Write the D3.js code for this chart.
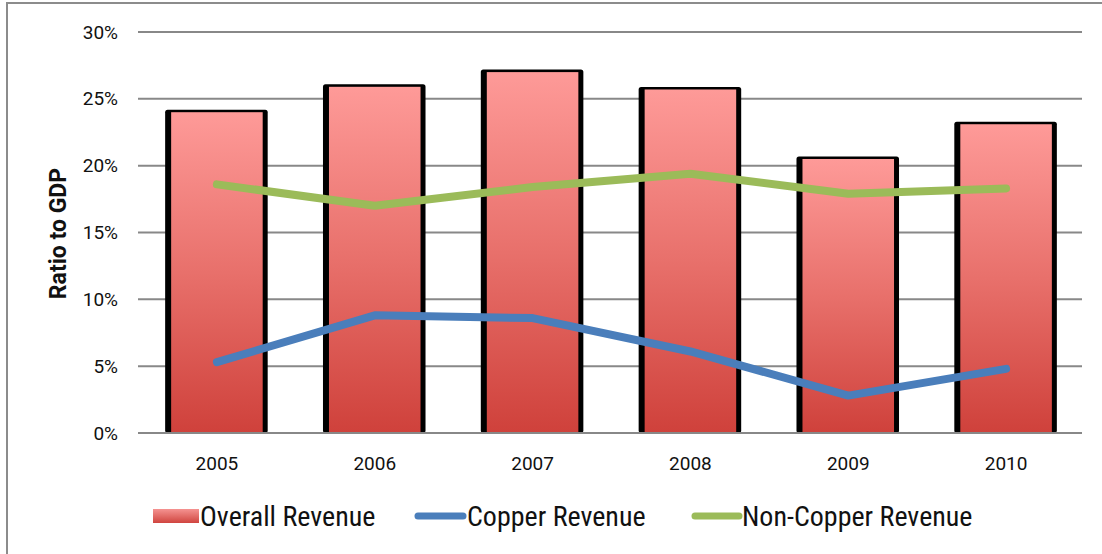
<!DOCTYPE html>
<meta charset="utf-8">
<body style="margin:0;background:#fff">
<script src="https://d3js.org/d3.v7.min.js"></script>
<script>

var years = ["2005", "2006", "2007", "2008", "2009", "2010"];
var overall = [24.0, 25.9, 27.0, 25.7, 20.5, 23.1];
var copper = [5.3, 8.8, 8.6, 6.1, 2.8, 4.8];
var nonCopper = [18.6, 17.0, 18.4, 19.4, 17.9, 18.3];
var yTicks = [0, 5, 10, 15, 20, 25, 30];

var W = 1102, H = 554;
var margin = { top: 32, right: 17, bottom: 121, left: 138 };
var width = W - margin.left - margin.right,
    height = H - margin.top - margin.bottom;

var svg = d3.select("body").append("svg")
    .attr("width", W)
    .attr("height", H);

// outer frame (runs off right/bottom)
svg.append("rect")
    .attr("x", 7).attr("y", 3)
    .attr("width", W + 10).attr("height", H + 10)
    .attr("fill", "none")
    .attr("stroke", "#8c8c8c")
    .attr("stroke-width", 2);

var defs = svg.append("defs");
var grad = defs.append("linearGradient")
    .attr("id", "barGrad")
    .attr("x1", 0).attr("y1", 0).attr("x2", 0).attr("y2", 1);
grad.append("stop").attr("offset", "0%").attr("stop-color", "#fe9a98");
grad.append("stop").attr("offset", "50%").attr("stop-color", "#e8706b");
grad.append("stop").attr("offset", "100%").attr("stop-color", "#cf413b");

var g = svg.append("g")
    .attr("transform", "translate(" + margin.left + "," + margin.top + ")");

var x = d3.scaleBand().domain(years).range([0, width]).paddingInner(0.42).paddingOuter(0.21);
var y = d3.scaleLinear().domain([0, 30]).range([height, 0]);

// gridlines
g.append("g")
    .selectAll("line")
    .data(yTicks)
  .enter().append("line")
    .attr("x1", 0).attr("x2", width - 3)
    .attr("y1", function (d) { return y(d); })
    .attr("y2", function (d) { return y(d); })
    .attr("stroke", "#888")
    .attr("stroke-width", 2);

// y tick labels
g.append("g")
    .selectAll("text")
    .data(yTicks)
  .enter().append("text")
    .attr("x", -20)
    .attr("y", function (d) { return y(d); })
    .attr("dy", "0.35em")
    .attr("text-anchor", "end")
    .style("font-family", "Roboto, 'Liberation Sans', sans-serif")
    .style("font-size", "19px")
    .attr("fill", "#111")
    .text(function (d) { return d + "%"; });

// bars: black shadow + gradient body
var bars = g.append("g").selectAll("g")
    .data(years)
  .enter().append("g");

bars.append("rect")
    .attr("x", function (d) { return x(d) - 6; })
    .attr("y", function (d, i) { return y(overall[i]) - 2.5; })
    .attr("width", x.bandwidth() + 11)
    .attr("height", function (d, i) { return height - y(overall[i]) + 2.5; })
    .attr("rx", 2.5)
    .attr("fill", "#000");

bars.append("rect")
    .attr("x", function (d) { return x(d); })
    .attr("y", function (d, i) { return y(overall[i]); })
    .attr("width", x.bandwidth())
    .attr("height", function (d, i) { return height - y(overall[i]); })
    .attr("fill", "url(#barGrad)");

// baseline
g.append("line")
    .attr("x1", 0).attr("x2", width - 3)
    .attr("y1", height).attr("y2", height)
    .attr("stroke", "#888")
    .attr("stroke-width", 2);

// x labels
g.append("g").selectAll("text")
    .data(years)
  .enter().append("text")
    .attr("x", function (d) { return x(d) + x.bandwidth() / 2; })
    .attr("y", height + 37)
    .attr("text-anchor", "middle")
    .style("font-family", "Roboto, 'Liberation Sans', sans-serif")
    .style("font-size", "19px")
    .attr("fill", "#111")
    .text(function (d) { return d; });

var line = function (vals) {
    return d3.line()
        .x(function (d, i) { return x(years[i]) + x.bandwidth() / 2; })
        .y(function (d) { return y(d); })(vals);
};

g.append("path")
    .attr("d", line(copper))
    .attr("fill", "none")
    .attr("stroke", "#4a7ebb")
    .attr("stroke-width", 8)
    .attr("stroke-linecap", "round")
    .attr("stroke-linejoin", "round");

g.append("path")
    .attr("d", line(nonCopper))
    .attr("fill", "none")
    .attr("stroke", "#9bbb59")
    .attr("stroke-width", 8)
    .attr("stroke-linecap", "round")
    .attr("stroke-linejoin", "round");

// y axis title
svg.append("text")
    .attr("transform", "translate(66," + (margin.top + height / 2 + 1) + ") rotate(-90)")
    .attr("text-anchor", "middle")
    .style("font-family", "Roboto, 'Liberation Sans', sans-serif")
    .style("font-size", "23px")
    .style("font-weight", "bold")
    .attr("fill", "#111")
    .text("Ratio to GDP");

// legend
var legY = 516;
var leg = svg.append("g");
var legFont = "'Liberation Sans Narrow', 'Roboto Condensed', sans-serif";

var lgGrad = defs.append("linearGradient")
    .attr("id", "legGrad")
    .attr("x1", 0).attr("y1", 0).attr("x2", 0).attr("y2", 1);
lgGrad.append("stop").attr("offset", "0%").attr("stop-color", "#f59391");
lgGrad.append("stop").attr("offset", "100%").attr("stop-color", "#d0453f");

leg.append("rect")
    .attr("x", 153).attr("y", legY - 7)
    .attr("width", 46).attr("height", 14)
    .attr("fill", "url(#legGrad)");
leg.append("text")
    .attr("x", 200).attr("y", legY).attr("dy", "0.35em")
    .style("font-family", legFont).style("font-size", "28px")
    .attr("fill", "#111")
    .text("Overall Revenue");

leg.append("line")
    .attr("x1", 418).attr("x2", 463)
    .attr("y1", legY).attr("y2", legY)
    .attr("stroke", "#4a7ebb").attr("stroke-width", 7)
    .attr("stroke-linecap", "round");
leg.append("text")
    .attr("x", 467).attr("y", legY).attr("dy", "0.35em")
    .style("font-family", legFont).style("font-size", "28px")
    .attr("fill", "#111")
    .text("Copper Revenue");

leg.append("line")
    .attr("x1", 695).attr("x2", 739)
    .attr("y1", legY).attr("y2", legY)
    .attr("stroke", "#9bbb59").attr("stroke-width", 7)
    .attr("stroke-linecap", "round");
leg.append("text")
    .attr("x", 742).attr("y", legY).attr("dy", "0.35em")
    .style("font-family", legFont).style("font-size", "28px")
    .attr("fill", "#111")
    .text("Non-Copper Revenue");

</script>
</body>
